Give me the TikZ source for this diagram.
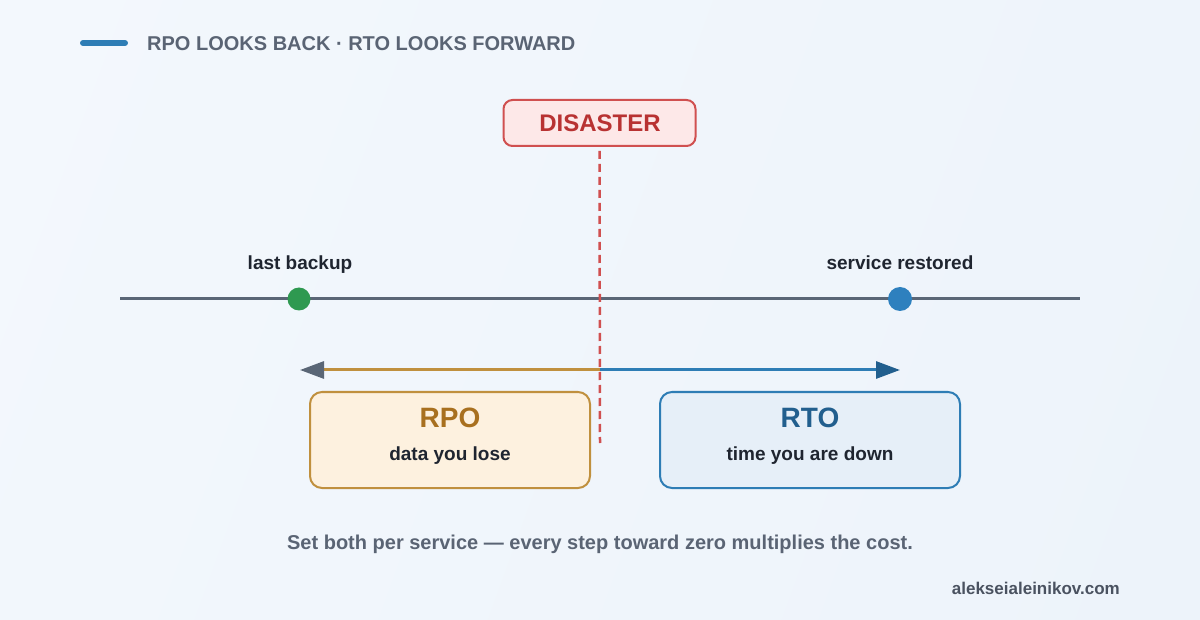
\documentclass[tikz,border=0pt]{standalone}
\usepackage{fontspec}
\setmainfont{Liberation Sans}
\usetikzlibrary{arrows.meta}
\definecolor{bgA}{HTML}{F6FAFE}
\definecolor{bgB}{HTML}{EAF1F9}
\definecolor{slate}{HTML}{5A6474}
\definecolor{axis}{HTML}{5A6676}
\definecolor{ink}{HTML}{1F2530}
\definecolor{blueM}{HTML}{2E7DB5}
\definecolor{blueD}{HTML}{225F8E}
\definecolor{greenD}{HTML}{2E9950}
\definecolor{dotB}{HTML}{2E80BE}
\definecolor{redS}{HTML}{D05050}
\definecolor{redT}{HTML}{B83232}
\definecolor{redF}{HTML}{FDE8E8}
\definecolor{ambS}{HTML}{C0903E}
\definecolor{ambT}{HTML}{A8701F}
\definecolor{ambF}{HTML}{FDF1DF}
\definecolor{bluF}{HTML}{E6EFF8}
\definecolor{foot}{HTML}{4A5260}
\pgfdeclarehorizontalshading{bgsh}{100bp}{color(0bp)=(bgA); color(100bp)=(bgB)}
\tikzset{
  lbl/.style={font=\bfseries\fontsize{19}{22}\selectfont, text=ink, inner sep=0pt, anchor=base},
  dot/.style={circle, inner sep=0pt, minimum size=#1},
  bigbox/.style={draw, line width=2pt, rounded corners=12pt, minimum width=280pt, minimum height=96pt, inner sep=0pt},
  headtxt/.style={font=\bfseries\fontsize{28}{32}\selectfont, inner sep=0pt, anchor=base},
}
\begin{document}
\begin{tikzpicture}[x=1pt,y=-1pt]
\useasboundingbox (0,0) rectangle (1200,620);
\shade[shading=bgsh, shading angle=-20] (-100,-100) rectangle (1300,720);
% legend
\coordinate (lg1) at (83,43);
\coordinate (lg2) at (125,43);
\draw[blueM, line width=6pt, line cap=round] (lg1) -- (lg2);
\node[anchor=base west, inner sep=0pt, font=\bfseries\fontsize{20}{24}\selectfont, text=slate] (title) at (147,50.5) {RPO LOOKS BACK · RTO LOOKS FORWARD};
% timeline
\coordinate (tl1) at (120,299);
\coordinate (tl2) at (1080,299);
\draw[axis, line width=3pt] (tl1) -- (tl2);
% disaster
\node[draw=redS, fill=redF, line width=2pt, rounded corners=9pt, minimum width=192pt, minimum height=46pt, inner sep=0pt] (dis) at (599.5,123) {};
\node[inner sep=0pt, anchor=base, text=redT, font=\bfseries\fontsize{24}{28}\selectfont] (dist) at (600,131.5) {DISASTER};
\coordinate (dEnd) at (600,443);
\draw[redS, line width=2.5pt, dash pattern=on 8pt off 5pt] (dis.south) ++(0,4) -- (dEnd);
% dots
\node[dot=23pt, fill=greenD] (lb) at (299,299) {};
\node[dot=24pt, fill=dotB] (sr) at (900,299) {};
\node[lbl] (lbt) at (300,270) {last backup};
\node[lbl] (srt) at (900,270) {service restored};
% arrows
\coordinate (mid) at (600,370);
\coordinate (rpoE) at (300,370);
\coordinate (rtoE) at (900,370);
\draw[ambS, line width=3pt, -{Triangle[length=24pt,width=17pt,color=axis]}] (mid) -- (rpoE);
\draw[blueM, line width=3pt, -{Triangle[length=24pt,width=17pt,color=blueD]}] (mid) -- (rtoE);
% boxes
\node[bigbox, draw=ambS, fill=ambF] (rpo) at (450,440) {};
\node[headtxt, text=ambT] (rpoh) at (450,428) {RPO};
\node[lbl] (rpos) at (450,460) {data you lose};
\node[bigbox, draw=blueM, fill=bluF, minimum width=300pt] (rto) at (810,440) {};
\node[headtxt, text=blueD] (rtoh) at (810,428) {RTO};
\node[lbl] (rtos) at (810,460) {time you are down};
% footer
\node[lbl, text=slate, font=\bfseries\fontsize{20}{24}\selectfont] (note) at (600,549) {Set both per service — every step toward zero multiplies the cost.};
\node[anchor=base east, inner sep=0pt, font=\bfseries\fontsize{17}{20}\selectfont, text=foot] (url) at (1120,594) {alekseialeinikov.com};
\end{tikzpicture}
\end{document}
